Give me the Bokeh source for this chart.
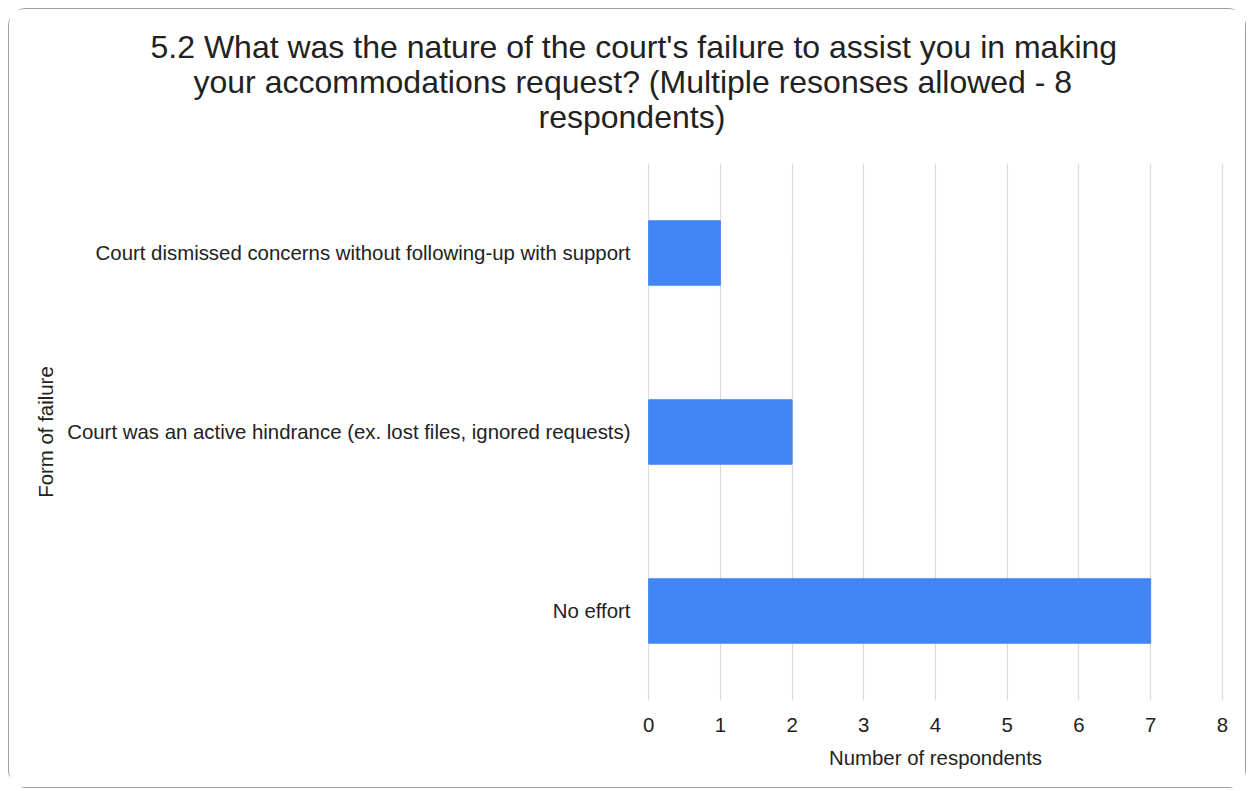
from bokeh.plotting import figure
from bokeh.models import FactorRange, Range1d, Title, FixedTicker
from bokeh.embed import file_html
from bokeh.resources import INLINE

categories = [
    "Court dismissed concerns without following-up with support",
    "Court was an active hindrance (ex. lost files, ignored requests)",
    "No effort",
]
respondents = [1, 2, 7]
x_ticks = [0, 1, 2, 3, 4, 5, 6, 7, 8]
title_lines = [
    "5.2 What was the nature of the court's failure to assist you in making",
    "your accommodations request? (Multiple resonses allowed - 8",
    "respondents)",
]
x_label = "Number of respondents"
y_label = "Form of failure"

FONT = "Liberation Sans"
TXT = "#222222"

p = figure(
    width=1238, height=780,
    y_range=FactorRange(factors=categories[::-1]),
    x_range=Range1d(-0.03, 8.03),
    output_backend="svg", toolbar_location=None,
    min_border_left=637, min_border_right=23,
    min_border_top=154, min_border_bottom=89,
)
p.styles = {"margin-left": "8px", "margin-top": "8px",
            "border": "1px solid #9e9e9e", "border-radius": "18px"}

p.hbar(y=categories, left=0, right=respondents, height=0.36,
       fill_color="#4285F4", line_color="#4285F4")

p.xaxis.ticker = FixedTicker(ticks=x_ticks)
for ax in (p.xaxis, p.yaxis):
    ax.axis_line_color = None
    ax.major_tick_line_color = None
    ax.minor_tick_line_color = None
    ax.major_tick_out = 0
    ax.major_tick_in = 0
    ax.major_label_text_font = FONT
    ax.major_label_text_font_size = "20.4px"
    ax.major_label_text_color = TXT
    ax.axis_label_text_font = FONT
    ax.axis_label_text_font_size = "20.4px"
    ax.axis_label_text_font_style = "normal"
    ax.axis_label_text_color = TXT

p.xaxis.axis_label = x_label
p.yaxis.axis_label = y_label
p.xaxis.major_label_standoff = 17
p.xaxis.axis_label_standoff = 12
p.yaxis.major_label_standoff = 16
p.yaxis.axis_label_standoff = 7

p.xgrid.grid_line_color = "#dadada"
p.xgrid.grid_line_width = 1.2
p.ygrid.grid_line_color = None
p.outline_line_color = None

# spacer between the frame and the title block
p.add_layout(Title(text=" ", text_font_size="10px", standoff=16), "above")

# title: panels stack outward, so add the last line first
offsets = [-496, -453, -108]
for line, off in reversed(list(zip(title_lines, offsets))):
    p.add_layout(Title(text=line, align="left", offset=off,
                       vertical_align="middle", standoff=-3,
                       text_font=FONT, text_font_size="32px",
                       text_font_style="normal", text_color=TXT), "above")

open("out.html", "w").write(file_html(p, INLINE))
